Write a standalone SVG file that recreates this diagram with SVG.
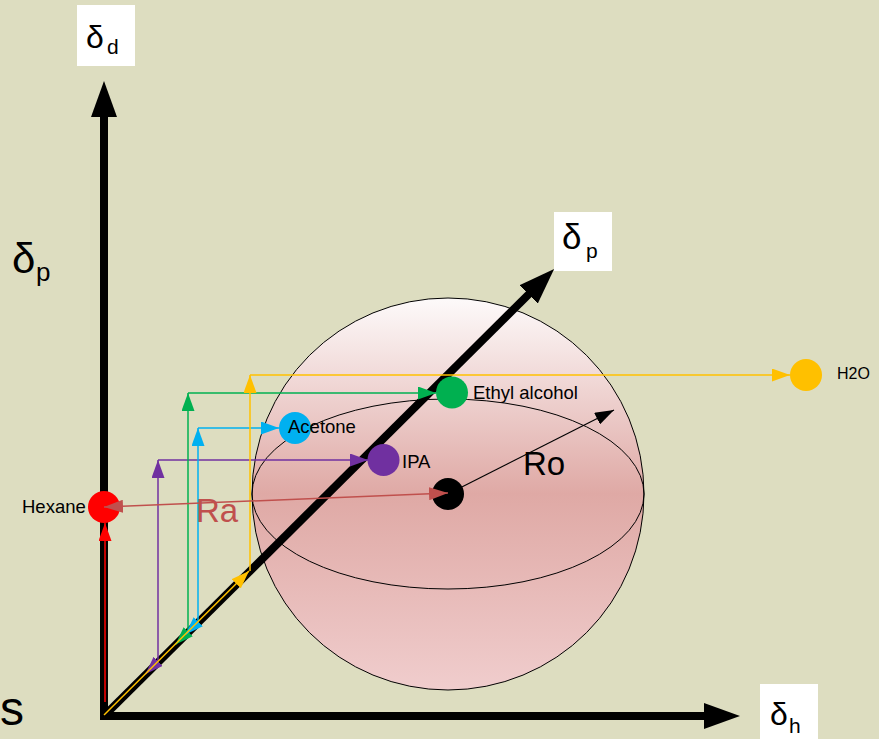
<svg xmlns="http://www.w3.org/2000/svg" width="879" height="739" viewBox="0 0 879 739">
<style>
text{font-family:"Liberation Sans","DejaVu Sans",sans-serif;fill:#000}
.lbl{font-size:18.5px}
.axis{stroke:#000;stroke-width:8;fill:none}
.thin{fill:none;stroke-width:1.5}
.box{fill:#fff}
</style>
<defs>
<linearGradient id="sph" x1="0" y1="0" x2="0" y2="1">
<stop offset="0" stop-color="#FDFAFA"/>
<stop offset="0.5" stop-color="#DFA9A5"/>
<stop offset="1" stop-color="#F0CDCD"/>
</linearGradient>
<marker id="ax" markerUnits="userSpaceOnUse" viewBox="0 0 36 26" refX="2" refY="13" markerWidth="36" markerHeight="26" orient="auto"><path d="M0,0 L36,13 L0,26 z" fill="#000"/></marker>
<marker id="aP" markerUnits="userSpaceOnUse" viewBox="0 0 18 13" refX="18" refY="6.5" markerWidth="18" markerHeight="13" orient="auto"><path d="M0,0 L18,6.5 L0,13 z" fill="#7030A0"/></marker>
<marker id="aB" markerUnits="userSpaceOnUse" viewBox="0 0 18 13" refX="18" refY="6.5" markerWidth="18" markerHeight="13" orient="auto"><path d="M0,0 L18,6.5 L0,13 z" fill="#00B0F0"/></marker>
<marker id="aG" markerUnits="userSpaceOnUse" viewBox="0 0 18 13" refX="18" refY="6.5" markerWidth="18" markerHeight="13" orient="auto"><path d="M0,0 L18,6.5 L0,13 z" fill="#00B050"/></marker>
<marker id="aY" markerUnits="userSpaceOnUse" viewBox="0 0 18 13" refX="18" refY="6.5" markerWidth="18" markerHeight="13" orient="auto"><path d="M0,0 L18,6.5 L0,13 z" fill="#FFC000"/></marker>
<marker id="aR" markerUnits="userSpaceOnUse" viewBox="0 0 18 13" refX="18" refY="6.5" markerWidth="18" markerHeight="13" orient="auto"><path d="M0,0 L18,6.5 L0,13 z" fill="#FF0000"/></marker>
<marker id="aRa" markerUnits="userSpaceOnUse" viewBox="0 0 19 13" refX="19" refY="6.5" markerWidth="19" markerHeight="13" orient="auto-start-reverse"><path d="M0,0 L19,6.5 L0,13 z" fill="#C0504D"/></marker>
<marker id="aK" markerUnits="userSpaceOnUse" viewBox="0 0 19 13" refX="19" refY="6.5" markerWidth="19" markerHeight="13" orient="auto"><path d="M0,0 L19,6.5 L0,13 z" fill="#000"/></marker>
</defs>
<rect width="879" height="739" fill="#DDDDC0"/>

<g id="sphere">
<circle cx="448" cy="494" r="196" fill="url(#sph)" stroke="#000" stroke-width="1"/>
<ellipse cx="448" cy="494" rx="196" ry="95" fill="none" stroke="#000" stroke-width="1"/>
</g>

<g id="axes">
<path class="axis" d="M104,720 L104,115" marker-end="url(#ax)"/>
<path class="axis" d="M100,716 L706,716" marker-end="url(#ax)"/>
<path class="axis" d="M104,716 L530,293" marker-end="url(#ax)"/>
</g>

<g id="hexane"><circle cx="104" cy="507" r="16" fill="#FF0000"/><text class="lbl" x="22" y="513">Hexane</text></g>
<g id="ipa"><circle cx="383.5" cy="460" r="16" fill="#7030A0"/><text class="lbl" x="402" y="468">IPA</text></g>
<g id="acetone"><circle cx="295" cy="428" r="16" fill="#00B0F0"/><text class="lbl" x="288" y="433">Acetone</text></g>
<g id="ethyl"><circle cx="452" cy="392.5" r="16" fill="#00B050"/><text class="lbl" x="473" y="399">Ethyl alcohol</text></g>
<g id="h2o"><circle cx="806" cy="375" r="16" fill="#FFC000"/><text x="837" y="379" font-size="16">H2O</text></g>
<g id="center"><circle cx="448" cy="494" r="16" fill="#000"/></g>

<g id="connectors">
<path class="thin" stroke="#FF0000" d="M105,702 L105,523" marker-end="url(#aR)"/>
<path class="thin" stroke="#7030A0" d="M158,661.5 L145.5,674" marker-end="url(#aP)"/>
<path class="thin" stroke="#7030A0" d="M158,661.5 L158,460" marker-end="url(#aP)"/>
<path class="thin" stroke="#7030A0" d="M158,460 L368,460" marker-end="url(#aP)"/>
<path class="thin" stroke="#00B050" d="M188,632 L175.5,644.5" marker-end="url(#aG)"/>
<path class="thin" stroke="#00B050" d="M188,632 L188,393" marker-end="url(#aG)"/>
<path class="thin" stroke="#00B050" d="M188,393 L436,393" marker-end="url(#aG)"/>
<path class="thin" stroke="#00B0F0" d="M198,622 L185.5,634.5" marker-end="url(#aB)"/>
<path class="thin" stroke="#00B0F0" d="M198,622 L198,428" marker-end="url(#aB)"/>
<path class="thin" stroke="#00B0F0" d="M198,428 L279,428" marker-end="url(#aB)"/>
<path class="thin" stroke="#FFC000" d="M104,715 L249,571" marker-end="url(#aY)"/>
<path class="thin" stroke="#FFC000" d="M250,571 L250,375" marker-end="url(#aY)"/>
<path class="thin" stroke="#FFC000" d="M250,375 L790,375" marker-end="url(#aY)"/>
<path class="thin" stroke="#C0504D" d="M104,507 L448,493" marker-start="url(#aRa)" marker-end="url(#aRa)"/>
<path fill="none" stroke="#000" stroke-width="1.2" d="M448,494 L614,410" marker-end="url(#aK)"/>
</g>

<g id="ra"><text x="196" y="522" font-size="33" style="fill:#C0504D">Ra</text></g>
<g id="ro"><text x="523" y="475" font-size="33">Ro</text></g>

<g id="label-dd"><rect class="box" x="77" y="5" width="58" height="61"/><text x="86" y="48" font-size="32">δ</text><text x="107" y="54" font-size="21">d</text></g>
<g id="label-dp-top"><rect class="box" x="554" y="212" width="58" height="59"/><text x="562" y="249" font-size="35">δ</text><text x="586" y="258" font-size="21">p</text></g>
<g id="label-dh"><rect class="box" x="760" y="684" width="58" height="60"/><text x="770" y="725" font-size="32">δ</text><text x="789" y="733" font-size="21">h</text></g>
<g id="label-dp-left"><text x="12" y="273" font-size="42">δ</text><text x="36" y="281" font-size="26">p</text></g>
<g id="label-s"><text x="0" y="725" font-size="48">s</text></g>
</svg>
